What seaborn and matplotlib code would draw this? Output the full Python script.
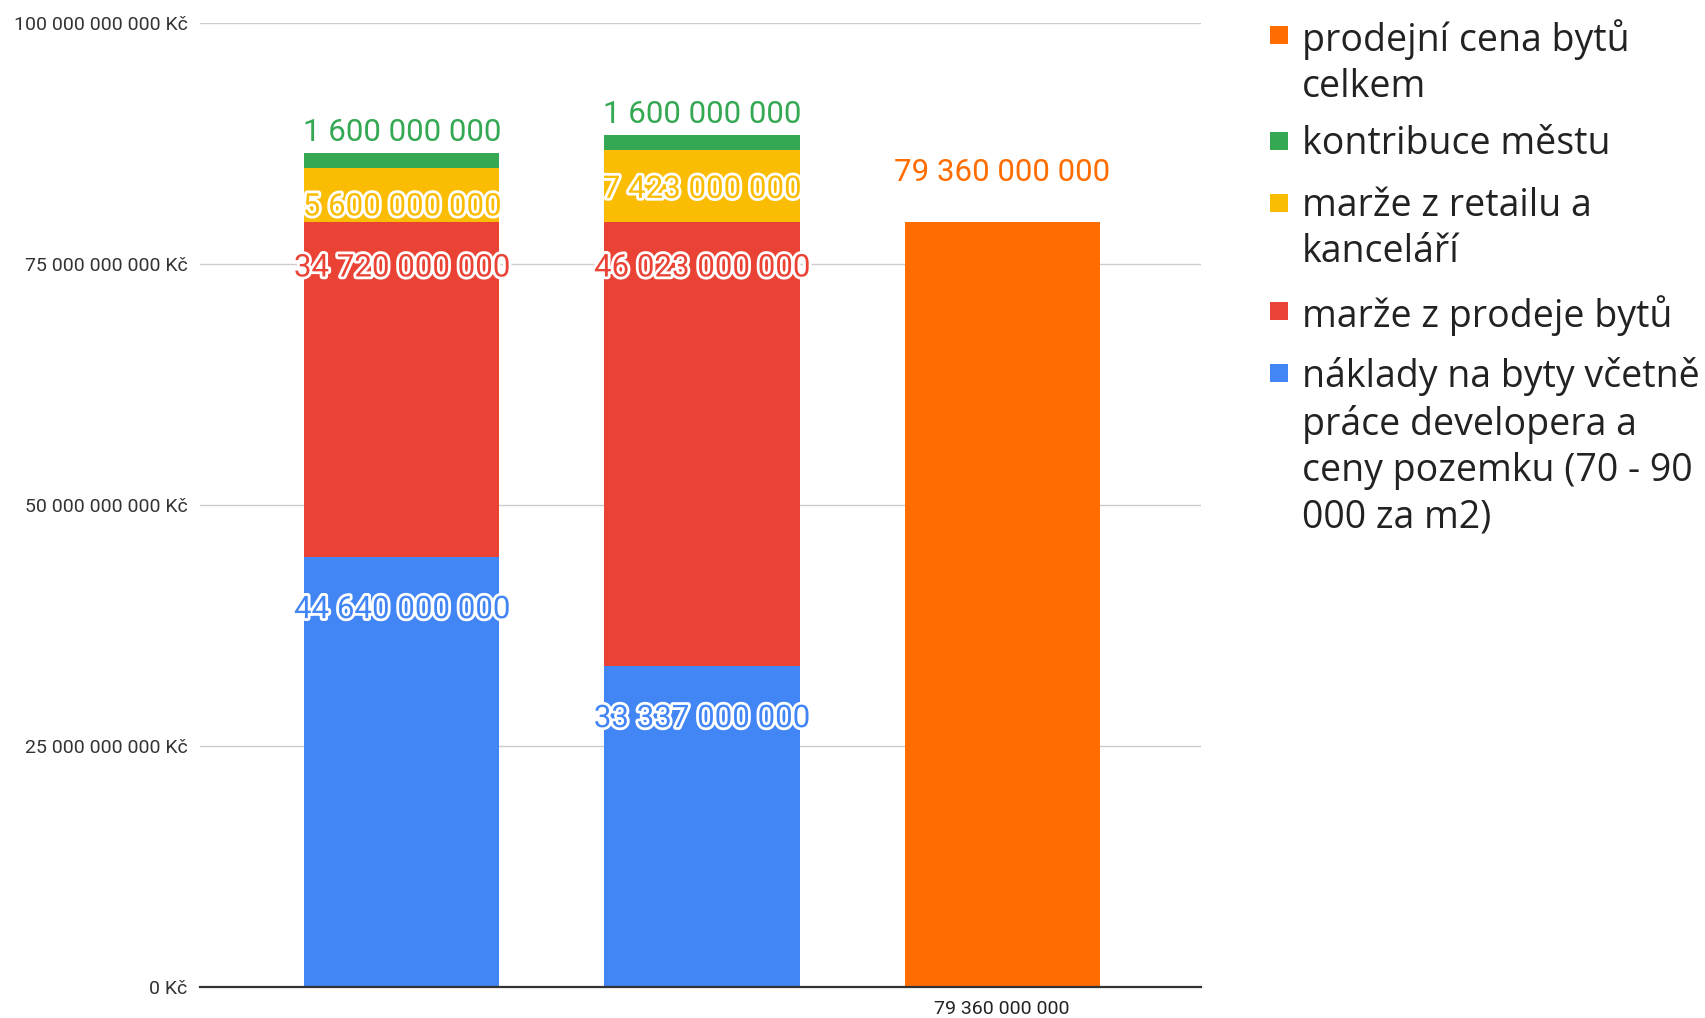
import numpy as np
import pandas as pd
import matplotlib
matplotlib.use("Agg")
import matplotlib.pyplot as plt
import matplotlib.patheffects as pe
from matplotlib.patches import Rectangle
from matplotlib.ticker import FuncFormatter, MultipleLocator
import seaborn as sns

# ---------------- data ----------------
categories = ["A", "B", "C"]
x_labels = ["", "", "79 360 000 000"]
naklady = [44.64e9, 33.337e9, 0.0]        # blue
marze_byty = [34.72e9, 46.023e9, 0.0]     # red
marze_retail = [5.6e9, 7.423e9, 0.0]      # yellow
kontribuce = [1.6e9, 1.6e9, 0.0]          # green
prodejni = [0.0, 0.0, 79.36e9]            # orange

name_naklady = "náklady na byty včetně\npráce developera a\nceny pozemku (70 - 90\n000 za m2)"
name_marze_byty = "marže z prodeje bytů"
name_marze_retail = "marže z retailu a\nkanceláří"
name_kontribuce = "kontribuce městu"
name_prodejni = "prodejní cena bytů\ncelkem"

c_blue = "#4285F4"
c_red = "#EA4335"
c_yellow = "#FBBC04"
c_green = "#34A853"
c_orange = "#FF6D01"

# ---------------- figure ----------------
sns.set_theme(style="white")
plt.rcParams["font.family"] = ["Roboto", "DejaVu Sans"]

W, H = 1706, 1018
fig = plt.figure(figsize=(W / 100, H / 100), dpi=100)
ax = fig.add_axes([200 / W, 1 - 987 / H, 1001 / W, (987 - 23) / H])

stack = [
    (naklady, c_blue, name_naklady, 53),
    (marze_byty, c_red, name_marze_byty, 46),
    (marze_retail, c_yellow, name_marze_retail, 39),
    (kontribuce, c_green, name_kontribuce, None),
]
arr = np.array([s[0] for s in stack])
cum = np.cumsum(arr, axis=0)

bar_w = 0.65
# orange series (own bar)
sns.barplot(x=categories, y=prodejni, order=categories, color=c_orange,
            saturation=1, width=bar_w, linewidth=0, ax=ax, zorder=3)
# stacked layers drawn from top to bottom
for i in range(len(stack) - 1, -1, -1):
    sns.barplot(x=categories, y=cum[i], order=categories, color=stack[i][1],
                saturation=1, width=bar_w, linewidth=0, ax=ax, zorder=3)

ax.set_xlim(-0.673, 2.663)
ax.set_ylim(0, 100e9)
ax.yaxis.set_major_locator(MultipleLocator(25e9))
ax.yaxis.set_major_formatter(
    FuncFormatter(lambda v, p: f"{v:,.0f}".replace(",", " ") + " Kč"))
ax.grid(axis="y", color="#cccccc", linewidth=1, zorder=0)
ax.grid(axis="x", visible=False)
for s in ["top", "right", "left"]:
    ax.spines[s].set_visible(False)
ax.spines["bottom"].set_color("#333333")
ax.spines["bottom"].set_linewidth(1.6)
ax.spines["bottom"].set_zorder(4)
ax.tick_params(axis="y", length=0, pad=9, labelsize=14, labelcolor="#333333")
ax.tick_params(axis="x", length=0, pad=9, labelsize=14, labelcolor="#222222")
ax.set_xticks(range(len(categories)))
ax.set_xticklabels(x_labels)
ax.set_xlabel("")
ax.set_ylabel("")

# ---------------- data labels ----------------
def fmt(v):
    return f"{v:,.0f}".replace(",", " ")

stroke = [pe.withStroke(linewidth=4, foreground="white")]
for i, (vals, col, _, off) in enumerate(stack):
    for j, v in enumerate(vals):
        if v <= 0:
            continue
        top = cum[i][j]
        if off is None:
            ax.annotate(fmt(v), xy=(j, top), xytext=(0, 20),
                        textcoords="offset pixels", ha="center", va="center",
                        fontsize=22.5, color=col, zorder=6)
        else:
            ax.annotate(fmt(v), xy=(j, top), xytext=(0, -off),
                        textcoords="offset pixels", ha="center", va="center",
                        fontsize=22.5, color=col, path_effects=stroke, zorder=6)
for j, v in enumerate(prodejni):
    if v > 0:
        ax.annotate(fmt(v), xy=(j, v), xytext=(0, 49),
                    textcoords="offset pixels", ha="center", va="center",
                    fontsize=22.5, color=c_orange, zorder=6)

# ---------------- legend (manual, handle aligned with first line) ----------------
leg_items = [(c_orange, name_prodejni), (c_green, name_kontribuce),
             (c_yellow, name_marze_retail), (c_red, name_marze_byty),
             (c_blue, name_naklady)]
first_line_y = [35, 141, 203, 311, 373]   # px from top, centre of first line
sq = 18
for (col, name), yc in zip(leg_items, first_line_y):
    fig.patches.append(Rectangle(((1279 - sq / 2) / W, 1 - (yc + sq / 2) / H),
                                 sq / W, sq / H, transform=fig.transFigure,
                                 facecolor=col, edgecolor="none"))
    fig.text(1302 / W, 1 - (yc - 16) / H, name, ha="left", va="top",
             fontsize=27, color="#222222", linespacing=1.29,
             family=["Open Sans", "DejaVu Sans"])

fig.savefig("out.png", dpi=100)
